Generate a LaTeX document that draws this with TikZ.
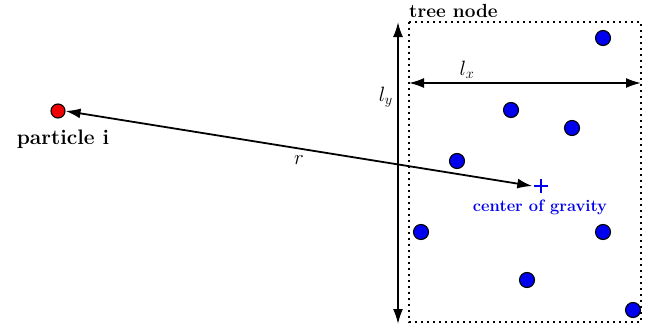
\documentclass[tikz,border=0pt]{standalone}
\usepackage{amsmath,amssymb}
\usetikzlibrary{arrows.meta}
\definecolor{ptred}{RGB}{240,0,0}
\definecolor{ptblue}{RGB}{0,0,240}

\begin{document}
\begin{tikzpicture}[x=1pt, y=-1pt,
    P/.style={circle, draw=black, fill=ptblue, line width=1.1pt,
              minimum size=15pt, inner sep=0pt},
    dim/.style={draw=black, line width=1.8pt,
                {Latex[length=15pt,width=10pt]}-{Latex[length=15pt,width=10pt]}},
    lab/.style={font=\bfseries\fontsize{19}{22}\selectfont},
    mlab/.style={font=\fontsize{22}{26}\selectfont}]
  \useasboundingbox (0,0) rectangle (661,332);
  % tree node cell
  \draw[line width=1.8pt, dash pattern=on 1.8pt off 4.2pt] (409,22) rectangle (641,322);
  \node[lab, anchor=south west, inner sep=1pt] (title) at (408,19) {tree node};
  % particles in the cell
  \foreach \px/\py [count=\k] in {603/38, 511/110, 572/128, 457/161,
                                 421/232, 603/232, 527/280, 633/310}
    \node[P] (p\k) at (\px,\py) {};
  % particle i and the centre of gravity
  \node[P, fill=ptred, minimum size=14pt] (pi) at (58,111) {};
  \node[lab, anchor=north, font=\bfseries\fontsize{21}{24}\selectfont] at (63,126) {particle i};
  \node[inner sep=0pt, minimum size=13pt] (cog) at (541,186) {};
  \draw[ptblue, line width=2.6pt] (cog.north) -- (cog.south) (cog.west) -- (cog.east);
  \node[ptblue, font=\bfseries\fontsize{16.5}{19}\selectfont, anchor=north] at (540,196) {center of gravity};
  % dimensions
  \coordinate (ly1) at (398,22);
  \coordinate (ly2) at (398,324);
  \coordinate (lx1) at (409,83);
  \coordinate (lx2) at (641,83);
  \draw[dim] (ly1) -- (ly2) node[pos=0.25, left=1pt, mlab] {$l_y$};
  \draw[dim] (lx1) -- (lx2) node[pos=0.25, above=0pt, mlab] {$l_x$};
  \draw[dim] ([xshift=-2pt]cog.west) -- (pi.east) node[pos=0.5, below=3pt, mlab] {$r$};
\end{tikzpicture}
\end{document}
